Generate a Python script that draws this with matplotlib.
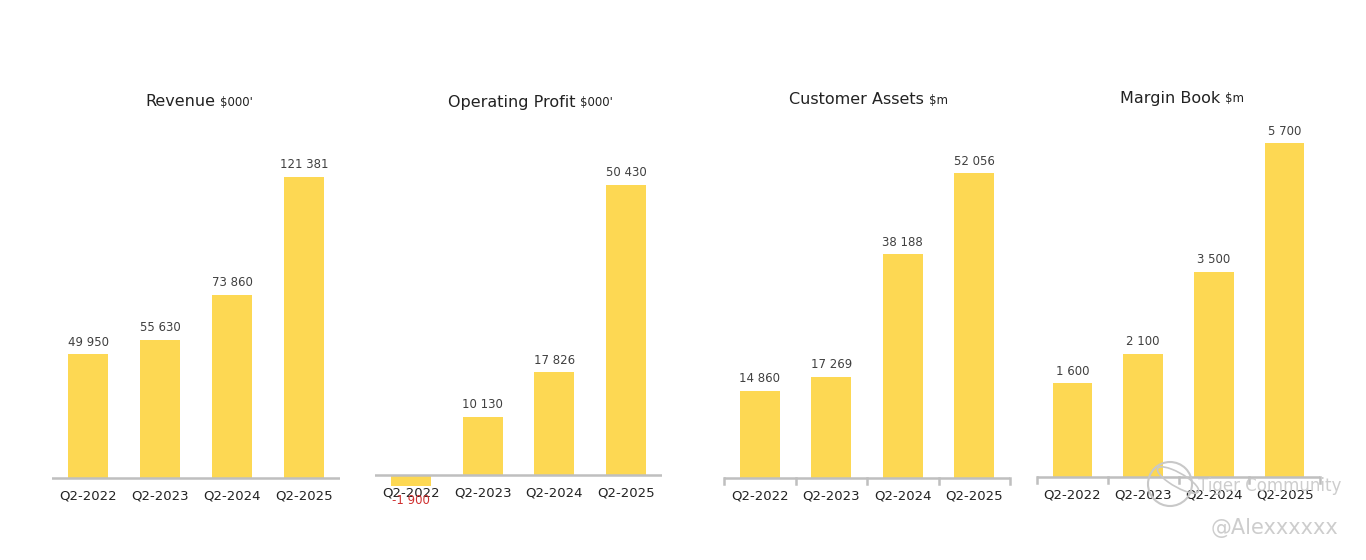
import matplotlib
matplotlib.use("Agg")
import matplotlib.pyplot as plt
from matplotlib.patches import Ellipse

plt.rcParams['font.family'] = ['DejaVu Sans']

categories = ["Q2-2022", "Q2-2023", "Q2-2024", "Q2-2025"]
revenue = [49950, 55630, 73860, 121381]
op_profit = [-1900, 10130, 17826, 50430]
cust_assets = [14860, 17269, 38188, 52056]
margin_book = [1600, 2100, 3500, 5700]

titles = ["Revenue", "Operating Profit", "Customer Assets", "Margin Book"]
units = ["$000'", "$000'", "$m", "$m"]

BAR = "#FDD853"
AXIS = "#BFBFBF"
LBL = "#404040"
NEG = "#D03030"

W, H = 1366, 560
fig = plt.figure(figsize=(W / 100, H / 100), dpi=100)
fig.patch.set_facecolor("white")

def fx(px):
    return px / W

def fy(py):
    return 1 - py / H

# pixel layout: (left, right, baseline_y, px_per_unit, title_y, title_split_x, ticks)
specs = [
    (52, 340, 478, 124 / 49950, 102, 215, False, revenue),
    (375, 662, 475, 290 / 50430, 103, 575, False, op_profit),
    (724, 1010, 478, 305 / 52056, 100, 924, True, cust_assets),
    (1037, 1320, 477, 334 / 5700, 99, 1220, True, margin_book),
]

top_px, bot_px = 130, 520
for i, (l, r, base, scale, ty, tsplit, ticks, vals) in enumerate(specs):
    ax = fig.add_axes([fx(l), fy(bot_px), fx(r - l), (bot_px - top_px) / H])
    ax.set_xlim(-0.5, 3.5)
    ax.set_ylim(-(bot_px - base) / scale, (base - top_px) / scale)
    x = range(len(categories))
    ax.bar(x, vals, width=0.555, color=BAR, zorder=2)
    ax.axhline(0, color=AXIS, lw=1.8, zorder=3)
    for s in ax.spines.values():
        s.set_visible(False)
    ax.set_yticks([])
    ax.set_xticks([])
    off = 12 / scale
    for xi, v in zip(x, vals):
        ax.text(xi, -18 / scale, categories[xi], ha="center", va="center",
                fontsize=9.5, color="#222222")
        if v >= 0:
            ax.text(xi, v + off, f"{v:,}".replace(",", " "), ha="center", va="center",
                    fontsize=8.5, color=LBL)
        else:
            ax.text(xi, v - 15 / scale, f"{v:,}".replace(",", " "), ha="center",
                    va="center", fontsize=8.5, color=NEG)
    if ticks:
        for b in [-0.5, 0.5, 1.5, 2.5, 3.5]:
            ax.plot([b, b], [0, -6 / scale], color=AXIS, lw=1.8, zorder=3,
                    clip_on=False)
    fig.text(fx(tsplit), fy(ty), titles[i], ha="right", va="center",
             fontsize=11.5, color="#222222")
    fig.text(fx(tsplit + 5), fy(ty), units[i], ha="left", va="center",
             fontsize=8.5, color="#222222")

# watermark
wm = "#C8C8C8"
fig.text(fx(1198), fy(486), "Tiger Community", ha="left", va="center",
         fontsize=12, color=wm, alpha=0.9)
fig.text(fx(1338), fy(528), "@Alexxxxxx", ha="right", va="center",
         fontsize=15, color=wm, alpha=0.9)
fig.patches.append(Ellipse((fx(1170), fy(484)), 44 / W, 44 / H,
                           transform=fig.transFigure, fill=False, ec=wm, lw=1.5))
fig.patches.append(Ellipse((fx(1178), fy(480)), 22 / W, 30 / H, angle=30,
                           transform=fig.transFigure, fill=False, ec=wm, lw=1.2))

fig.savefig("out.png", dpi=100)
